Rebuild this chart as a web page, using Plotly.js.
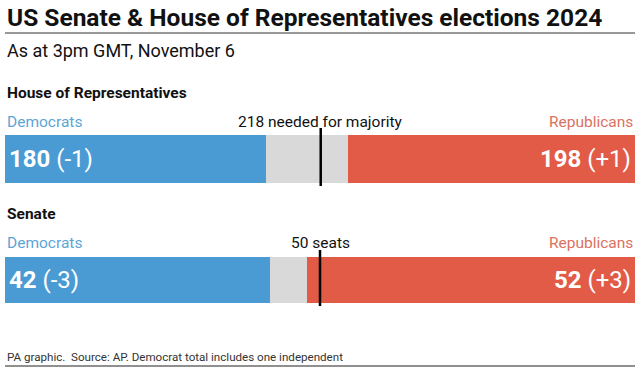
<!DOCTYPE html>
<html><head><meta charset="utf-8">
<script src="https://cdn.plot.ly/plotly-3.0.1.min.js"></script>
<style>body{margin:0;background:#fff}#c{width:640px;height:372px}</style>
</head><body><div id="c"></div>
<script>
const chambers = ["House of Representatives", "Senate"];
const totalSeats = [435, 100];
const demSeats = [180, 42];
const repSeats = [198, 52];
const undecidedSeats = [57, 6];
const demChange = ["-1", "-3"];
const repChange = ["+1", "+3"];
const thresholds = [218, 50];
const thresholdLabels = ["218 needed for majority", "50 seats"];

const W = 640, H = 372;
const py = p => 1 - p / H;
const FONT = "Roboto, 'Liberation Sans', Arial, sans-serif";
const BLUE = "#4a9bd4", RED = "#e25b47", GREY = "#d9d9d9";

// pixel layout of each panel: [barTop, barBottom, headingY, labelY]
const panels = [[135, 183, 93, 122], [257, 303, 214, 243]];

const traces = [];
const layout = {
  width: W, height: H, margin: {l: 5, r: 5, t: 0, b: 0},
  paper_bgcolor: "#fff", plot_bgcolor: "#fff",
  showlegend: false, barmode: "stack", bargap: 0,
  font: {family: FONT, color: "#111"},
  annotations: [], shapes: []
};

chambers.forEach((ch, i) => {
  const sfx = i === 0 ? "" : String(i + 1);
  const xa = "x" + sfx, ya = "y" + sfx;
  const segs = [[demSeats[i], BLUE], [undecidedSeats[i], GREY], [repSeats[i], RED]];
  segs.forEach(([v, c]) => traces.push({
    type: "bar", orientation: "h", x: [v], y: [ch], xaxis: xa, yaxis: ya,
    marker: {color: c, line: {width: 0}}, width: 1, hoverinfo: "skip"
  }));
  const [bt, bb, hy, ly] = panels[i];
  layout["xaxis" + sfx] = {range: [0, totalSeats[i]], domain: [0, 1], visible: false, fixedrange: true, anchor: ya};
  layout["yaxis" + sfx] = {domain: [py(bb), py(bt)], range: [-0.5, 0.5], visible: false, fixedrange: true, anchor: xa, type: "category"};
  layout.shapes.push({type: "line", xref: xa, yref: "paper", x0: thresholds[i], x1: thresholds[i],
    y0: py(bb + 3), y1: py(bt - 7), line: {color: "#000", width: 2.5}});
  const A = layout.annotations;
  A.push({xref: "paper", yref: "paper", x: 0, y: py(hy), xanchor: "left", yanchor: "middle", showarrow: false,
    text: "<b>" + ch + "</b>", font: {size: 15.5, color: "#111"}});
  A.push({xref: "paper", yref: "paper", x: 0, y: py(ly), xanchor: "left", yanchor: "middle", showarrow: false,
    text: "Democrats", font: {size: 15.5, color: "#5ba5d6"}});
  A.push({xref: "paper", yref: "paper", x: 1, y: py(ly), xanchor: "right", yanchor: "middle", showarrow: false,
    text: "Republicans", font: {size: 15.5, color: "#d9725f"}});
  A.push({xref: xa, yref: "paper", x: thresholds[i], y: py(ly), xanchor: "center", yanchor: "middle", showarrow: false,
    text: thresholdLabels[i], font: {size: 15.5, color: "#111"}});
  const my = py((bt + bb) / 2);
  A.push({xref: xa, yref: "paper", x: 0, y: my, xanchor: "left", yanchor: "middle", showarrow: false, xshift: 2,
    text: "<b>" + demSeats[i] + "</b> (" + demChange[i] + ")", font: {size: 24, color: "#fff"}});
  A.push({xref: xa, yref: "paper", x: totalSeats[i], y: my, xanchor: "right", yanchor: "middle", showarrow: false, xshift: -2,
    text: "<b>" + repSeats[i] + "</b> (" + repChange[i] + ")", font: {size: 24, color: "#fff"}});
});

layout.annotations.push(
  {xref: "paper", yref: "paper", x: 0, y: py(18), xanchor: "left", yanchor: "middle", showarrow: false,
   text: "<b>US Senate & House of Representatives elections 2024</b>", font: {size: 24.5, color: "#111"}},
  {xref: "paper", yref: "paper", x: 0, y: py(50), xanchor: "left", yanchor: "middle", showarrow: false,
   text: "As at 3pm GMT, November 6", font: {size: 18, color: "#111"}},
  {xref: "paper", yref: "paper", x: 0, y: py(357), xanchor: "left", yanchor: "middle", showarrow: false,
   text: "PA graphic.  Source: AP. Democrat total includes one independent", font: {size: 11.6, color: "#333"}}
);
layout.shapes.push(
  {type: "line", xref: "paper", yref: "paper", x0: 0, x1: 1, y0: py(33), y1: py(33), line: {color: "#333", width: 1}},
  {type: "line", xref: "paper", yref: "paper", x0: 0, x1: 1, y0: py(366), y1: py(366), line: {color: "#222", width: 1.2}}
);

Plotly.newPlot("c", traces, layout, {displayModeBar: false, staticPlot: true});
</script></body></html>
